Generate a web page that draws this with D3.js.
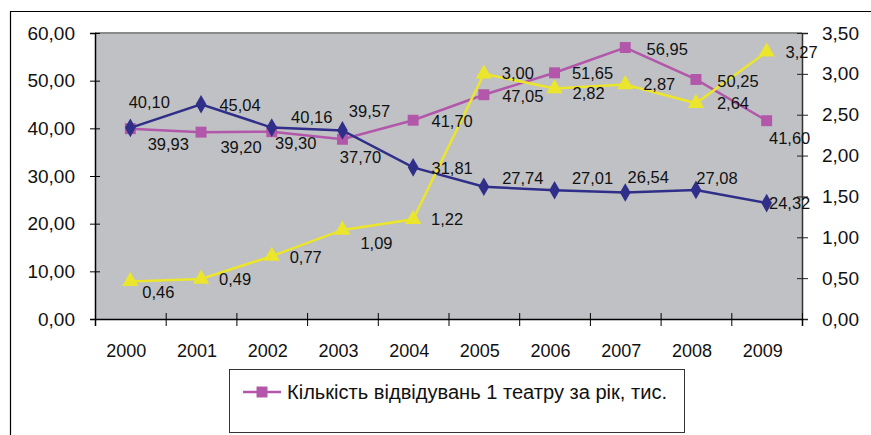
<!DOCTYPE html>
<html>
<head>
<meta charset="utf-8">
<script src="https://cdn.jsdelivr.net/npm/d3@7"></script>
<style>
  body { margin: 0; background: #fff; }
  svg text { font-family: "Liberation Sans", Arial, sans-serif; fill: #111; }
</style>
</head>
<body>
<div class="canvas"></div>
<script>
// data
const years = ['2000', '2001', '2002', '2003', '2004', '2005', '2006', '2007', '2008', '2009'];
const visits = [39.93, 39.2, 39.3, 37.7, 41.7, 47.05, 51.65, 56.95, 50.25, 41.6];
const blueSeries = [40.1, 45.04, 40.16, 39.57, 31.81, 27.74, 27.01, 26.54, 27.08, 24.32];
const yellowSeries = [0.46, 0.49, 0.77, 1.09, 1.22, 3.0, 2.82, 2.87, 2.64, 3.27];
const leftTicks = [0, 10, 20, 30, 40, 50, 60];
const rightTicks = [0, 0.5, 1, 1.5, 2, 2.5, 3, 3.5];
const legendLabel = 'Кількість відвідувань 1 театру за рік, тис.';

// label nudges (dx, dy) from each point, like the manual placing in the original
const blueNudge = [[19, -26], [39, 1], [40, -11], [27, -19], [39, 1], [39, -9], [38, -12], [23, -15], [21, -12], [23, 0]];
const pinkNudge = [[38, 15], [40, 15], [24, 11], [18, 18], [39, 1], [39, 1], [38, 0], [42, 1], [42, 2], [23, 17]];
const yellowNudge = [[28, 11], [34, 0], [34, 1], [34, 13], [34, 0], [34, -1], [34, 4], [34, 0], [37, 0], [35, 0]];

const dims = { width: 871, height: 435 };
const plot = { left: 95, top: 33, right: 802, bottom: 319 };

const locale = d3.formatLocale({ decimal: ',', thousands: ' ', grouping: [3], currency: ['', ''] });
const fmt = locale.format('.2f');

const svg = d3.select('.canvas')
  .append('svg')
  .attr('width', dims.width)
  .attr('height', dims.height);

// outer frame (cut by the window on the right and bottom)
svg.append('path')
  .attr('d', `M10.5,${dims.height} V11.5 H${dims.width}`)
  .attr('fill', 'none')
  .attr('stroke', '#000')
  .attr('stroke-width', 1.2);

// scales
const x = d3.scaleBand()
  .domain(years)
  .range([plot.left, plot.right]);
const xc = d => x(d) + x.bandwidth() / 2;

const yLeft = d3.scaleLinear()
  .domain([0, 60])
  .range([plot.bottom, plot.top]);

const yRight = d3.scaleLinear()
  .domain([0, 3.5])
  .range([plot.bottom, plot.top]);

// plot area
svg.append('rect')
  .attr('x', plot.left)
  .attr('y', plot.top)
  .attr('width', plot.right - plot.left)
  .attr('height', plot.bottom - plot.top)
  .attr('fill', '#c0c1c5');

svg.append('line')
  .attr('x1', plot.left).attr('x2', plot.right)
  .attr('y1', plot.top).attr('y2', plot.top)
  .attr('stroke', '#8a8a8a')
  .attr('stroke-width', 2);

// left axis
const leftAxis = svg.append('g')
  .attr('transform', `translate(${plot.left},0)`)
  .call(d3.axisLeft(yLeft).tickValues(leftTicks).tickFormat(fmt).tickSize(5).tickPadding(15));
leftAxis.selectAll('.tick line').attr('x1', 5).attr('stroke', '#000');
leftAxis.select('.domain').attr('stroke', '#000').attr('stroke-width', 1.5);
leftAxis.selectAll('text').attr('font-size', 19).attr('fill', '#111');

// right axis
const rightAxis = svg.append('g')
  .attr('transform', `translate(${plot.right},0)`)
  .call(d3.axisRight(yRight).tickValues(rightTicks).tickFormat(fmt).tickSize(6).tickPadding(14));
rightAxis.selectAll('.tick line').attr('x1', -5).attr('stroke', '#222');
rightAxis.select('.domain').attr('stroke', '#333').attr('stroke-width', 1.5);
rightAxis.selectAll('text').attr('font-size', 19).attr('fill', '#111');

// bottom axis: ticks at band edges, labels at band centres
const edge = d3.scaleLinear().domain([0, years.length]).range([plot.left, plot.right]);
const tickAxis = svg.append('g')
  .attr('transform', `translate(0,${plot.bottom})`)
  .call(d3.axisBottom(edge).tickValues(d3.range(years.length + 1)).tickFormat('').tickSize(7));
tickAxis.selectAll('.tick line').attr('y1', -6).attr('stroke', '#000');
tickAxis.select('.domain').attr('stroke', '#000').attr('stroke-width', 1.5);

const labelAxis = svg.append('g')
  .attr('transform', `translate(-4,${plot.bottom})`)
  .call(d3.axisBottom(x).tickSize(0).tickPadding(25));
labelAxis.select('.domain').remove();
labelAxis.selectAll('text').attr('font-size', 18).attr('fill', '#111');

// series
const series = [
  { name: 'visits', values: visits, y: yLeft, color: '#b257a9', shape: d3.symbolSquare, size: 120, nudge: pinkNudge },
  { name: 'blue', values: blueSeries, y: yLeft, color: '#2f2f8a', shape: d3.symbolDiamond, size: 100, nudge: blueNudge },
  { name: 'yellow', values: yellowSeries, y: yRight, color: '#ebe52b', shape: d3.symbolTriangle, size: 115, nudge: yellowNudge }
];

series.forEach(s => {
  const pts = years.map((yr, i) => ({ x: xc(yr), y: s.y(s.values[i]), v: s.values[i], n: s.nudge[i] }));
  const line = d3.line().x(d => d.x).y(d => d.y);

  svg.append('path')
    .datum(pts)
    .attr('d', line)
    .attr('fill', 'none')
    .attr('stroke', s.color)
    .attr('stroke-width', 2.5);

  svg.append('g')
    .selectAll('path')
    .data(pts)
    .enter()
    .append('path')
    .attr('d', d3.symbol().type(s.shape).size(s.size))
    .attr('transform', d => `translate(${d.x},${d.y})`)
    .attr('fill', s.color);

  s.pts = pts;
});

// data labels on top
series.forEach(s => {
  svg.append('g')
    .selectAll('text')
    .data(s.pts)
    .enter()
    .append('text')
    .attr('x', d => d.x + d.n[0])
    .attr('y', d => d.y + d.n[1])
    .attr('text-anchor', 'middle')
    .attr('dominant-baseline', 'central')
    .attr('font-size', 16.5)
    .attr('fill', '#222')
    .text(d => fmt(d.v));
});

// legend
const legend = svg.append('g');
legend.append('rect')
  .attr('x', 229.5).attr('y', 369.5)
  .attr('width', 455).attr('height', 63)
  .attr('fill', '#fff')
  .attr('stroke', '#333');
legend.append('line')
  .attr('x1', 243).attr('x2', 281)
  .attr('y1', 392).attr('y2', 392)
  .attr('stroke', '#b257a9').attr('stroke-width', 2.5);
legend.append('path')
  .attr('d', d3.symbol().type(d3.symbolSquare).size(120))
  .attr('transform', 'translate(262,392)')
  .attr('fill', '#b257a9');
legend.append('text')
  .attr('x', 287).attr('y', 392)
  .attr('dominant-baseline', 'central')
  .attr('font-size', 19.5)
  .attr('textLength', 380)
  .attr('lengthAdjust', 'spacingAndGlyphs')
  .text(legendLabel);
</script>
</body>
</html>
